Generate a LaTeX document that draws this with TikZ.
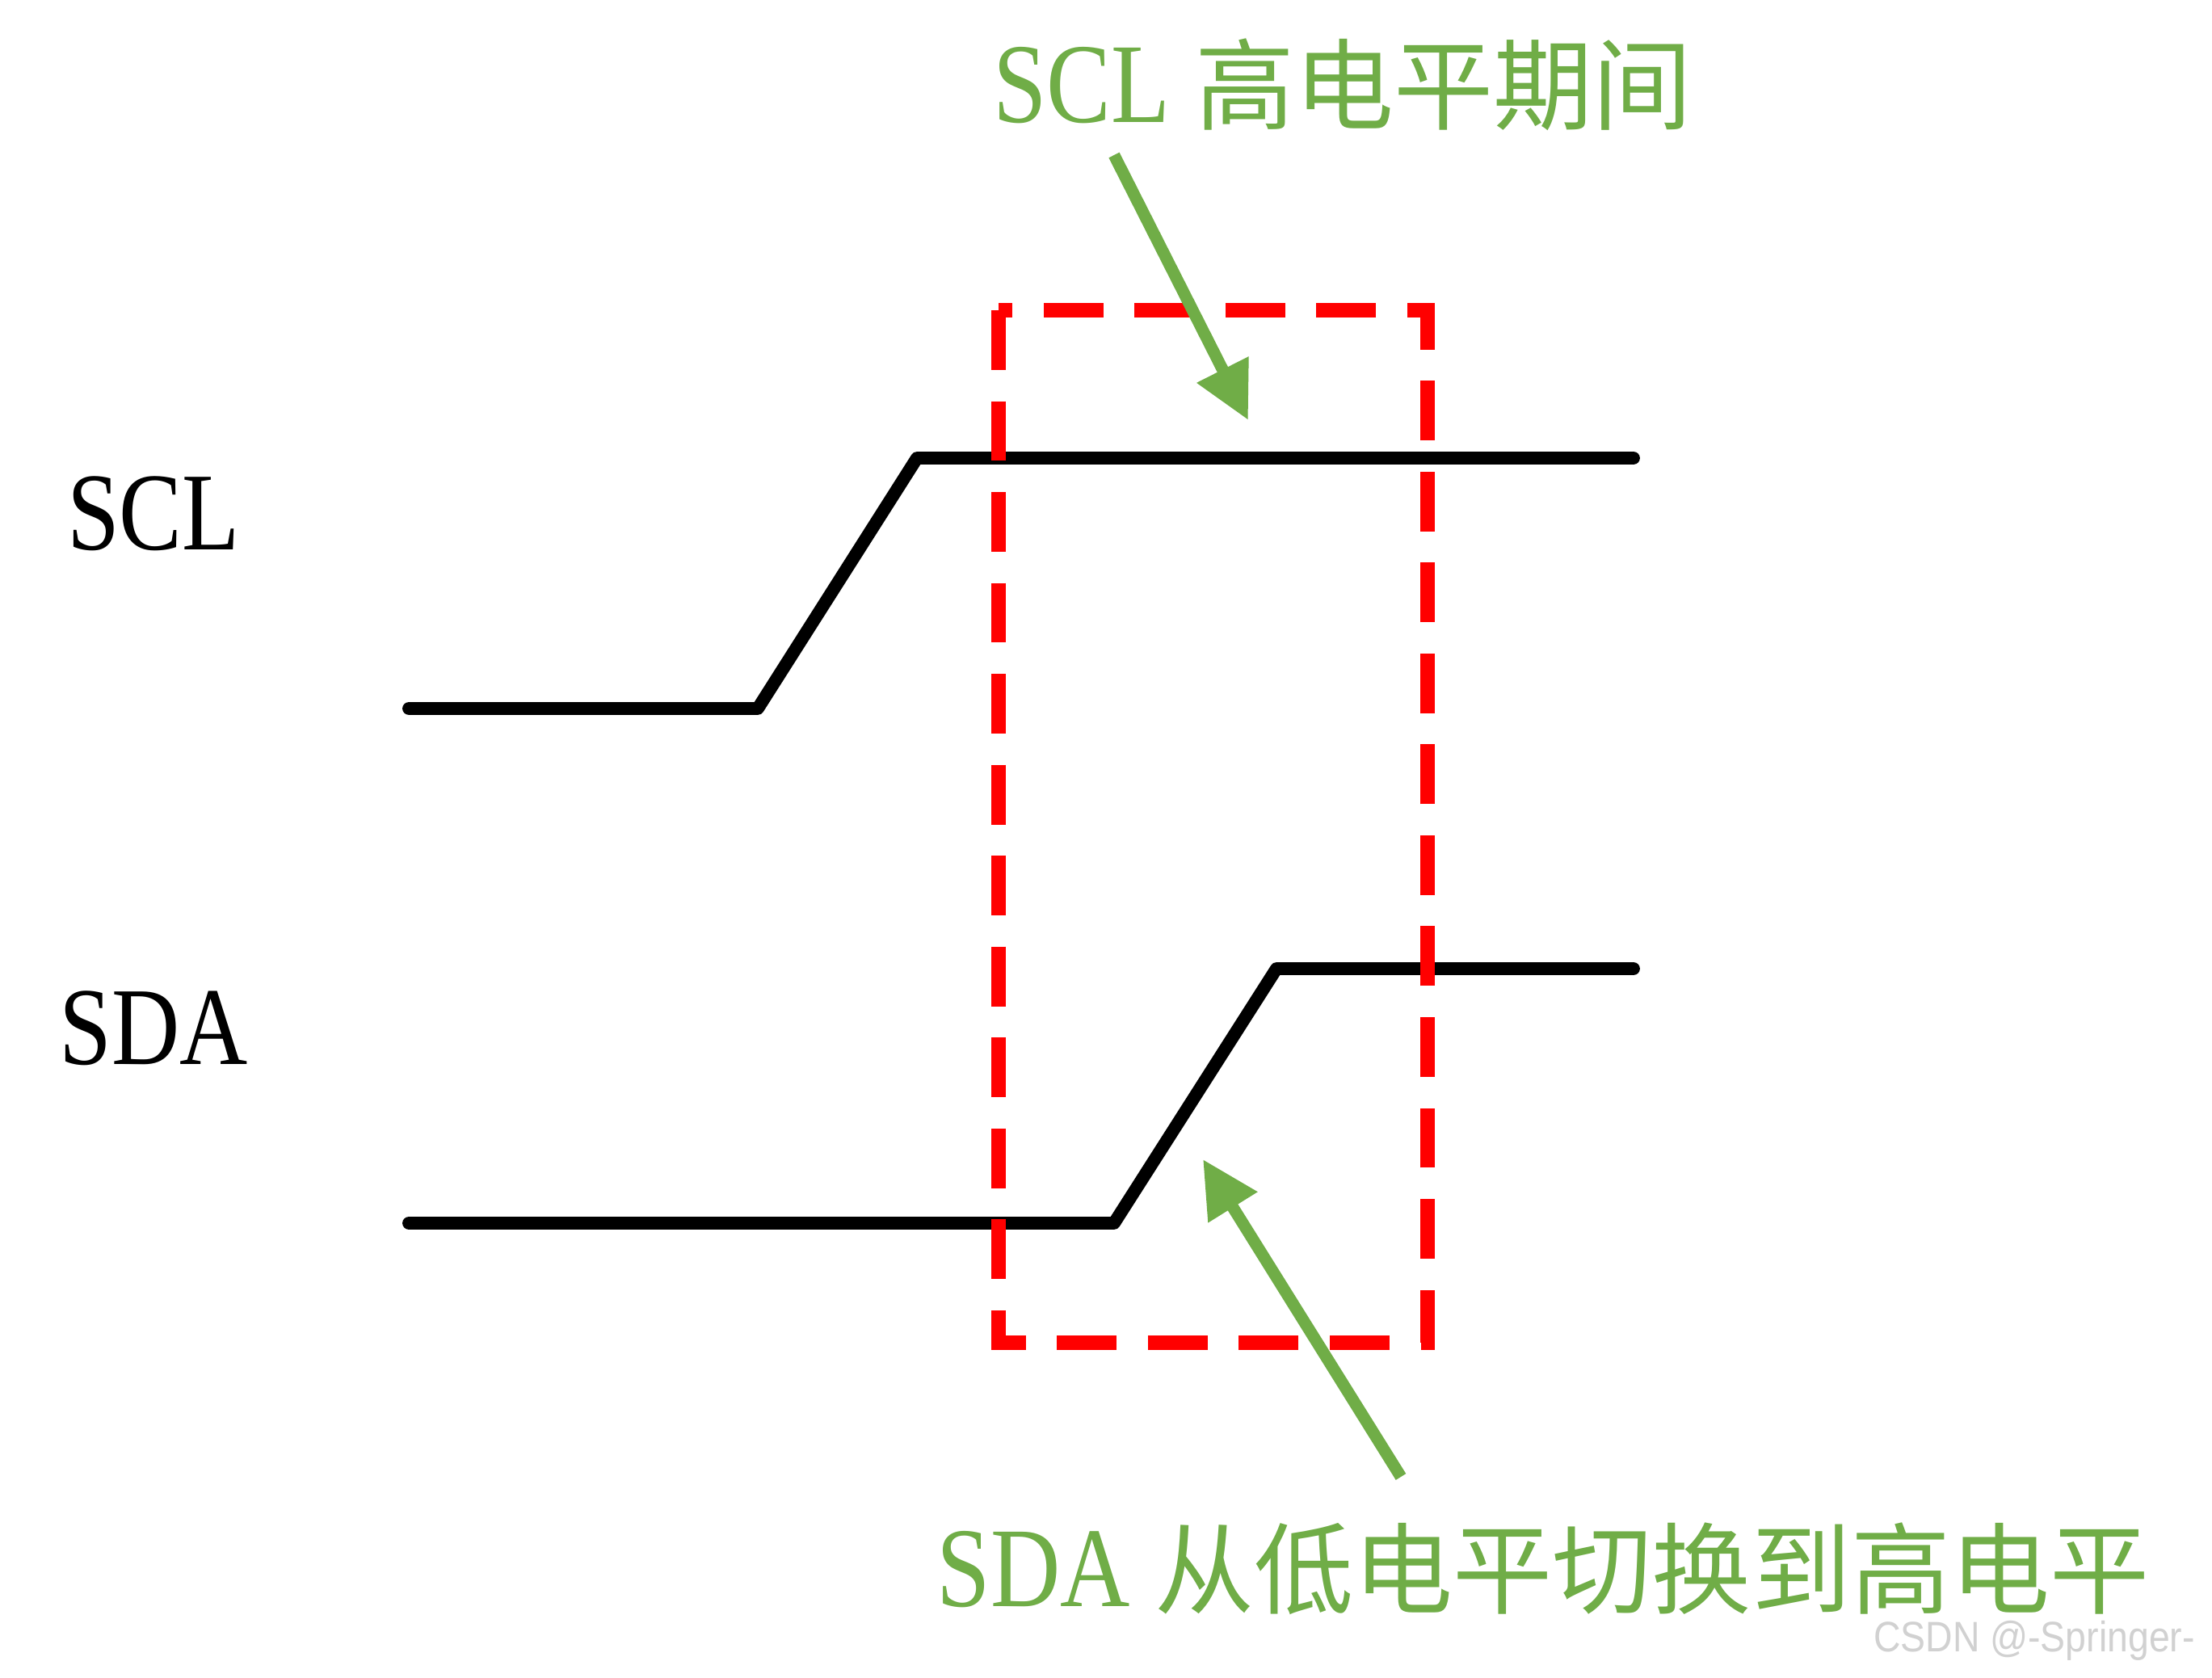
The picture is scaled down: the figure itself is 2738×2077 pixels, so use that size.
\documentclass[tikz,border=0pt]{standalone}
\usepackage{fontspec}
\setmainfont{Liberation Serif}
\newfontfamily\cjkfont{Noto Sans CJK SC}
\newfontfamily\wmfont{Liberation Sans}
\usetikzlibrary{positioning,arrows.meta}
\definecolor{notegreen}{HTML}{70AD47}
\newcommand\narrow[1]{\scalebox{0.85}[1]{#1}}

\begin{document}
\begin{tikzpicture}[
    x=0.01cm, y=-0.01cm,
    wave/.style={line width=4.5pt, line cap=round, line join=round},
    window/.style={draw=red, line width=5pt, dash pattern=on 21pt off 11pt},
    note/.style={draw=notegreen, line width=4.2pt, -{Triangle[length=7mm, width=6.8mm]}},
    sig/.style={inner sep=0pt, font=\fontsize{39}{39}\selectfont},
    caption/.style={inner sep=0pt, text=notegreen, font=\fontsize{35}{35}\selectfont},
  ]
  \useasboundingbox[fill=white] (0,0) rectangle (2738,2077);

  % signal names
  \node[sig] (scl) at (190,636) {\narrow{SCL}};
  \node[sig] (sda) at (190,1273) {\narrow{SDA}};

  % SCL waveform
  \coordinate (scl0) at (506,877);
  \coordinate (scl1) at (938,877);
  \coordinate (scl2) at (1135,567);
  \coordinate (scl3) at (2022,567);
  \draw[wave] (scl0) -- (scl1) -- (scl2) -- (scl3);

  % SDA waveform
  \coordinate (sda0) at (506,1514);
  \coordinate (sda1) at (1379,1514);
  \coordinate (sda2) at (1580,1199);
  \coordinate (sda3) at (2022,1199);
  \draw[wave] (sda0) -- (sda1) -- (sda2) -- (sda3);

  % start condition window
  \coordinate (winA) at (1236,384);
  \coordinate (winB) at (1767,1662);
  \draw[window] (winA) rectangle (winB);

  % notes
  \node[caption] (top) at (1662,105) {\narrow{\fontsize{40}{40}\selectfont SCL} {\cjkfont 高电平期间}};
  \node[caption] (bot) at (1910,1942) {\narrow{\fontsize{40}{40}\selectfont SDA} {\cjkfont 从低电平切换到高电平}};
  \coordinate (topA) at (1379,192);
  \coordinate (topB) at (1545,520);
  \coordinate (botA) at (1734,1828);
  \coordinate (botB) at (1489,1435);
  \draw[note] (topA) -- (topB);
  \draw[note] (botA) -- (botB);

  \node[inner sep=0pt, text=black!18, font=\wmfont\fontsize{15}{15}\selectfont] (mark) at (2518,2031) {\scalebox{0.88}[1]{CSDN @-Springer-}};
\end{tikzpicture}
\end{document}
